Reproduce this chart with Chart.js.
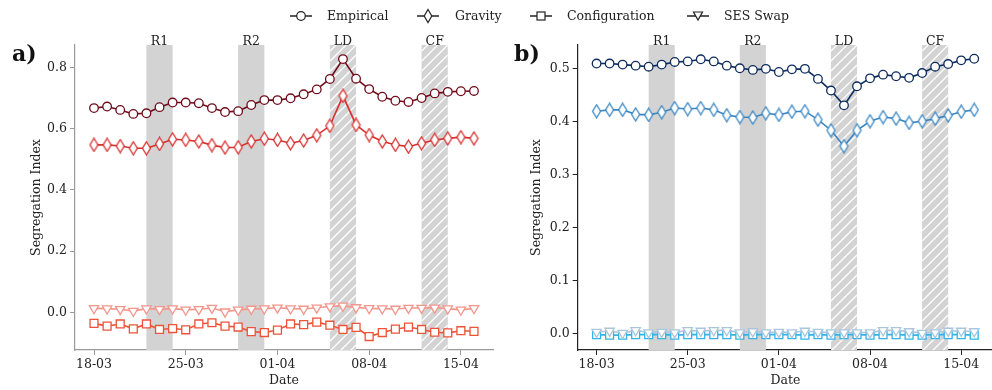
<!DOCTYPE html>
<html>
<head>
<meta charset="utf-8">
<script src="https://cdn.jsdelivr.net/npm/chart.js@4.4.1/dist/chart.umd.min.js"></script>
<style>
  body { margin: 0; width: 992px; height: 390px; overflow: hidden; background: #fff; position: relative; font-family: 'DejaVu Serif', serif; color: #222; }
  canvas { position: absolute; top: 0; }
  #chartA { left: 0; }
  #chartB { left: 500px; }
  .tag { position: absolute; top: 40px; font-size: 22px; font-weight: bold; color: #111; }
  .leg { position: absolute; top: 7px; font-size: 12.5px; line-height: 18px; white-space: nowrap; }
  .leg svg { position: absolute; top: 0; }
</style>
</head>
<body>
<canvas id="chartA" width="500" height="390"></canvas>
<canvas id="chartB" width="500" height="390"></canvas>
<div class="tag" style="left:12px">a)</div>
<div class="tag" style="left:514px">b)</div>
<div id="legend"></div>

<script>
const dates = ['18-03','19-03','20-03','21-03','22-03','23-03','24-03','25-03','26-03','27-03',
  '28-03','29-03','30-03','31-03','01-04','02-04','03-04','04-04','05-04','06-04',
  '07-04','08-04','09-04','10-04','11-04','12-04','13-04','14-04','15-04','16-04'];
const dateTicks = ['18-03','25-03','01-04','08-04','15-04'];

// intervention periods
const bandLabels = ['R1','R2','LD','CF'];
const bandStart = ['22-03','29-03','05-04','12-04'];
const bandEnd = ['24-03','31-03','07-04','14-04'];
const bandHatched = [false,false,true,true];

// panel a
const empiricalA = [0.667,0.672,0.661,0.648,0.650,0.670,0.685,0.685,0.683,0.667,
  0.654,0.657,0.677,0.693,0.693,0.699,0.712,0.728,0.762,0.827,
  0.763,0.729,0.704,0.691,0.687,0.700,0.715,0.720,0.722,0.723];
const gravityA = [0.547,0.547,0.543,0.536,0.536,0.550,0.565,0.563,0.558,0.546,
  0.538,0.539,0.558,0.567,0.563,0.552,0.561,0.578,0.609,0.707,
  0.612,0.579,0.558,0.547,0.541,0.552,0.563,0.568,0.572,0.568];
const configA = [-0.036,-0.045,-0.038,-0.054,-0.038,-0.056,-0.053,-0.057,-0.038,-0.034,
  -0.045,-0.048,-0.063,-0.066,-0.058,-0.038,-0.040,-0.032,-0.042,-0.056,
  -0.049,-0.079,-0.066,-0.055,-0.048,-0.056,-0.065,-0.067,-0.060,-0.062];
const sesA = [0.013,0.012,0.010,0.004,0.012,0.010,0.012,0.008,0.010,0.014,
  0.002,0.008,0.011,0.012,0.015,0.012,0.011,0.015,0.019,0.021,
  0.016,0.013,0.012,0.011,0.014,0.014,0.015,0.012,0.008,0.013];

// panel b
const empiricalB = [0.510,0.510,0.508,0.506,0.504,0.508,0.513,0.514,0.518,0.514,
  0.506,0.501,0.498,0.500,0.494,0.499,0.500,0.481,0.459,0.431,
  0.467,0.482,0.489,0.486,0.483,0.492,0.504,0.509,0.516,0.519];
const gravityB = [0.420,0.4225,0.4225,0.414,0.413,0.418,0.426,0.424,0.426,0.4225,
  0.4125,0.409,0.408,0.416,0.413,0.419,0.420,0.404,0.384,0.354,
  0.384,0.401,0.409,0.406,0.398,0.401,0.406,0.412,0.419,0.4225];
const configB = [-0.002,-0.003,-0.003,-0.002,-0.002,-0.002,-0.003,-0.002,-0.002,-0.002,
  -0.002,-0.003,-0.002,-0.002,-0.002,-0.002,-0.003,-0.002,-0.003,-0.002,
  -0.002,-0.003,-0.002,-0.002,-0.003,-0.003,-0.002,-0.002,-0.002,-0.003];
const sesB = [0.003,0.005,0.001,0.006,0.002,0.003,0.002,0.006,0.005,0.006,
  0.006,0.002,0.004,0.002,0.003,0.002,0.005,0.003,0.002,0.002,
  0.002,0.002,0.006,0.006,0.004,0.001,0.002,0.005,0.005,0.004];

const yTicksA = [0, 0.2, 0.4, 0.6, 0.8];
const yTicksB = [0, 0.1, 0.2, 0.3, 0.4, 0.5];

const FONT = "'DejaVu Serif', serif";

// thin diamond marker (matplotlib 'd' look)
function thinDiamond(color) {
  const c = document.createElement('canvas');
  c.width = 11; c.height = 15;
  const g = c.getContext('2d');
  g.beginPath();
  g.moveTo(5.5, 1); g.lineTo(9.5, 7.5); g.lineTo(5.5, 14); g.lineTo(1.5, 7.5); g.closePath();
  g.fillStyle = '#fff'; g.fill();
  g.lineWidth = 1.3; g.strokeStyle = color; g.stroke();
  return c;
}

function series(label, values, color, marker) {
  const ds = {
    label,
    data: values.map((v, i) => ({ x: i, y: v })),
    borderColor: color,
    borderWidth: 1.6,
    pointBackgroundColor: '#fff',
    pointBorderColor: color,
    pointBorderWidth: 1.3,
    pointRadius: 4.3,
    pointStyle: 'circle',
    tension: 0
  };
  if (marker === 'diamond') ds.pointStyle = thinDiamond(color);
  if (marker === 'square') { ds.pointStyle = 'rect'; ds.pointRadius = 5.6; }
  if (marker === 'tri') { ds.pointStyle = 'triangle'; ds.pointRadius = 5.4; ds.pointRotation = 180; }
  return ds;
}

// shaded / hatched periods with labels on top
const bandsPlugin = {
  id: 'bands',
  beforeDatasetsDraw(chart) {
    const { ctx, chartArea: a, scales: { x } } = chart;
    ctx.save();
    bandLabels.forEach((lab, i) => {
      const x0 = x.getPixelForValue(dates.indexOf(bandStart[i]));
      const x1 = x.getPixelForValue(dates.indexOf(bandEnd[i]));
      ctx.fillStyle = '#d3d3d3';
      ctx.fillRect(x0, a.top, x1 - x0, a.bottom - a.top);
      if (bandHatched[i]) {
        ctx.save();
        ctx.beginPath();
        ctx.rect(x0, a.top, x1 - x0, a.bottom - a.top);
        ctx.clip();
        ctx.strokeStyle = '#fff';
        ctx.lineWidth = 1.3;
        for (let y = a.top - 40; y < a.bottom + 40; y += 10) {
          ctx.beginPath();
          ctx.moveTo(x0, y + (x1 - x0));
          ctx.lineTo(x1, y);
          ctx.stroke();
        }
        ctx.restore();
      }
    });
    ctx.restore();
  },
  afterDraw(chart) {
    const { ctx, chartArea: a, scales: { x } } = chart;
    ctx.save();
    ctx.font = '12.5px ' + FONT;
    ctx.fillStyle = '#222';
    ctx.textAlign = 'center';
    ctx.textBaseline = 'alphabetic';
    bandLabels.forEach((lab, i) => {
      const x0 = x.getPixelForValue(dates.indexOf(bandStart[i]));
      const x1 = x.getPixelForValue(dates.indexOf(bandEnd[i]));
      ctx.fillText(lab, (x0 + x1) / 2, a.top - 0.5);
    });
    ctx.restore();
  }
};

function makeChart(id, sets, yMin, yMax, yTicks, axisColor, yWidth, padRight) {
  return new Chart(document.getElementById(id), {
    type: 'line',
    data: { datasets: sets },
    plugins: [bandsPlugin],
    options: {
      responsive: false,
      animation: false,
      events: [],
      layout: { padding: { top: 45, right: padRight, left: 0, bottom: 0 } },
      plugins: { legend: { display: false }, tooltip: { enabled: false } },
      scales: {
        x: {
          type: 'linear', min: -1.45, max: 30.45,
          afterBuildTicks: s => { s.ticks = dateTicks.map(d => ({ value: dates.indexOf(d) })); },
          afterFit: s => { s.height = 40; },
          grid: { drawOnChartArea: false, tickLength: 5, tickColor: axisColor },
          border: { color: axisColor, width: 1.2 },
          ticks: { callback: v => dates[v], color: '#222', padding: 2, maxRotation: 0,
            font: { family: FONT, size: 12.5 } },
          title: { display: true, text: 'Date', color: '#222', padding: { top: 0, bottom: 1.5 },
            font: { family: FONT, size: 12.5 } }
        },
        y: {
          min: yMin, max: yMax,
          afterBuildTicks: s => { s.ticks = yTicks.map(v => ({ value: v })); },
          afterFit: s => { s.width = yWidth; },
          grid: { drawOnChartArea: false, tickLength: 5, tickColor: axisColor },
          border: { color: axisColor, width: 1.2 },
          ticks: { callback: v => v.toFixed(1), color: '#222', padding: 3,
            font: { family: FONT, size: 12.5 } },
          title: { display: true, text: 'Segregation Index', color: '#222', padding: { top: 29, bottom: 0 },
            font: { family: FONT, size: 12.5 } }
        }
      }
    }
  });
}

makeChart('chartA', [
  series('Empirical', empiricalA, '#6e0c1a', 'circle'),
  series('Gravity', gravityA, '#d7302f', 'diamond'),
  series('Configuration', configA, '#ec5338', 'square'),
  series('SES Swap', sesA, '#f3968c', 'tri')
], -0.123, 0.873, yTicksA, '#9a9a9a', 75, 7);

makeChart('chartB', [
  series('Empirical', empiricalB, '#0e2d5e', 'circle'),
  series('Gravity', gravityB, '#3a86c2', 'diamond'),
  series('SES Swap', sesB, '#aac6de', 'tri'),
  series('Configuration', configB, '#33b2e8', 'square')
], -0.031, 0.545, yTicksB, '#222', 77.7, 3.5);

// shared legend
const legendItems = [
  { text: 'Empirical', x: 290, tx: 327, shape: '<circle cx="11" cy="9" r="4.3"/>' },
  { text: 'Gravity', x: 417, tx: 455, shape: '<polygon points="11,2.5 14.8,9 11,15.5 7.2,9"/>' },
  { text: 'Configuration', x: 530, tx: 567, shape: '<rect x="7" y="5" width="8" height="8"/>' },
  { text: 'SES Swap', x: 687, tx: 724, shape: '<polygon points="6.5,5 15.5,5 11,13"/>' }
];
const legend = document.getElementById('legend');
legendItems.forEach(it => {
  const icon = document.createElement('div');
  icon.className = 'leg';
  icon.style.left = it.x + 'px';
  icon.innerHTML = '<svg width="22" height="18"><line x1="0" y1="9" x2="22" y2="9" stroke="#222" stroke-width="1.5"/>' +
    '<g fill="#fff" stroke="#222" stroke-width="1.2">' + it.shape + '</g></svg>';
  legend.appendChild(icon);
  const t = document.createElement('div');
  t.className = 'leg';
  t.style.left = it.tx + 'px';
  t.textContent = it.text;
  legend.appendChild(t);
});
</script>
</body>
</html>
